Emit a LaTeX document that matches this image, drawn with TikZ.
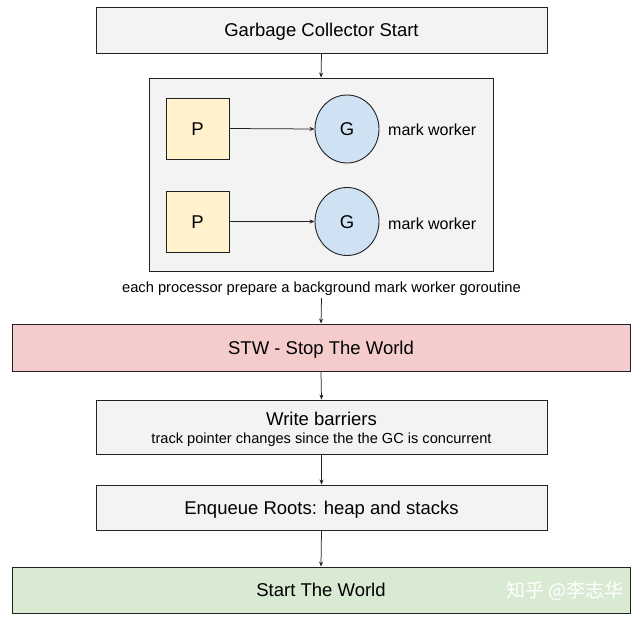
\documentclass[tikz,border=0pt]{standalone}
\usepackage{fontspec}
\setmainfont{Liberation Sans}
\newfontfamily\cjkfont{Noto Sans CJK SC}
\usetikzlibrary{arrows.meta,shapes.geometric}
\definecolor{boxgray}{HTML}{F3F3F3}
\definecolor{pinkfill}{HTML}{F4CCCC}
\definecolor{greenfill}{HTML}{D9EAD3}
\definecolor{yellowfill}{HTML}{FFF2CC}
\definecolor{bluefill}{HTML}{CFE2F3}
\definecolor{edge}{HTML}{222222}
\tikzset{
  big/.style={font=\fontsize{18.5}{22}\selectfont, text height=13.2pt, text depth=0pt},
  stage/.style={draw=edge, line width=0.9pt, inner sep=0pt, big},
  proc/.style={draw=edge, line width=0.9pt, fill=yellowfill, minimum width=63pt, minimum height=61pt, inner sep=0pt, big},
  gor/.style={draw=edge, line width=0.9pt, fill=bluefill, ellipse, minimum width=64pt, minimum height=68pt, inner sep=0pt, big},
  lbl/.style={inner sep=0pt, font=\fontsize{16}{19}\selectfont, text height=11.5pt, text depth=0pt},
  conn/.style={draw=edge, line width=0.75pt, -{Stealth[length=5pt,width=4pt]}}
}
\begin{document}
\begin{tikzpicture}[x=1pt,y=-1pt]
\useasboundingbox (0,0) rectangle (638,618);
% stages
\node[stage, fill=boxgray, minimum width=451pt, minimum height=46pt] (gcs) at (321.5,30) {Garbage Collector Start};
\node[draw=edge, line width=0.9pt, fill=boxgray, minimum width=344pt, minimum height=193pt, inner sep=0pt] (cont) at (321,174.5) {};
\node[proc] (p1) at (197.5,128.5) {P};
\node[proc] (p2) at (197.5,221.5) {P};
\node[gor] (g1) at (347,129) {G};
\node[gor] (g2) at (347,221.5) {G};
\node[lbl, anchor=west] (m1) at (388,129.5) {mark worker};
\node[lbl, anchor=west] (m2) at (388,223.5) {mark worker};
\node[inner sep=0pt, font=\fontsize{14.7}{17}\selectfont, text height=10.5pt, text depth=0pt] (cap) at (321.5,287) {each processor prepare a background mark worker goroutine};
\node[stage, fill=pinkfill, minimum width=618pt, minimum height=47pt] (stw) at (321,347.5) {STW - Stop The World};
\node[draw=edge, line width=0.9pt, inner sep=0pt, fill=boxgray, minimum width=451pt, minimum height=54pt, align=center, font=\fontsize{18.5}{22}\selectfont] (wb) at (321.5,427) {\rule{0pt}{19pt}Write barriers\\[-4pt]{\fontsize{14.6}{17}\selectfont track pointer changes since the the GC is concurrent}};
\node[stage, fill=boxgray, minimum width=451pt, minimum height=45pt] (enq) at (321.5,507.5) {Enqueue Roots: heap and stacks};
\node[stage, fill=greenfill, minimum width=618pt, minimum height=46pt] (stw2) at (321,590) {Start The World};
\node[inner sep=0pt, text=white, font=\cjkfont\fontsize{19}{21}\selectfont] (wm) at (565,591) {知乎 @李志华};
% connectors
\draw[conn] (gcs.south) -- (cont.north);
\draw[conn] (p1.east) -- (g1.west);
\draw[conn] (p2.east) -- (g2.west);
\coordinate (capb) at (cap.south |- 0,298);
\draw[conn] (capb) -- (stw.north);
\draw[conn] (stw.south) -- (wb.north);
\draw[conn] (wb.south) -- (enq.north);
\draw[conn] (enq.south) -- (stw2.north);
\end{tikzpicture}
\end{document}
